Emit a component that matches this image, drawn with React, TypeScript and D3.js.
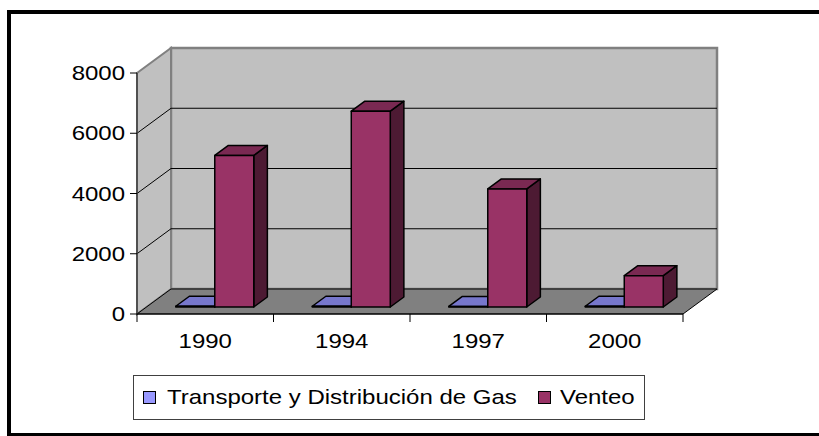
import React from 'react';
import * as d3 from 'd3';

// Emisiones: Transporte y Distribución de Gas vs Venteo, columnas 3D

const years = ['1990', '1994', '1997', '2000'];
const seriesNames = ['Transporte y Distribución de Gas', 'Venteo'];
const transporte = [25, 25, 20, 25];
const venteo = [5030, 6500, 3920, 1040];
const yTicks = [0, 2000, 4000, 6000, 8000];

const W = 819;
const H = 436;
const FONT = '"Liberation Sans", Arial, sans-serif';

// front plane of the plot box and depth vector of the 3D box
const left = 137;
const right = 683;
const bottom = 314;
const top = 73;
const depth = { x: 34, y: -25 };
const barFront = 0.28;
const barBack = 0.68;

const colors = [
  { front: '#9999FF', top: '#7777CC', side: '#5555AA' },
  { front: '#993366', top: '#7A2952', side: '#4D1A33' },
];

const StretchText = ({ x, y, anchor, children }: any) => (
  <text
    transform={`translate(${x},${y}) scale(1.2,1)`}
    textAnchor={anchor}
    fontFamily={FONT}
    fontSize={20}
    fill="#000"
  >
    {children}
  </text>
);

const App = () => {
  const x0 = d3.scaleBand().domain(years).range([left, right]).paddingInner(0);
  const x1 = d3
    .scaleBand()
    .domain(seriesNames)
    .range([0, x0.bandwidth()])
    .paddingInner(0)
    .paddingOuter(0.75);
  const y = d3.scaleLinear().domain([0, 8000]).range([bottom, top]);

  const pts = (arr: number[][]) => arr.map((p) => p.join(',')).join(' ');

  const bx = depth.x;
  const by = depth.y;

  // walls and floor
  const backWall = pts([
    [left + bx, top + by],
    [right + bx, top + by],
    [right + bx, bottom + by],
    [left + bx, bottom + by],
  ]);
  const sideWall = pts([
    [left, top],
    [left + bx, top + by],
    [left + bx, bottom + by],
    [left, bottom],
  ]);
  const floor = pts([
    [left, bottom],
    [left + bx, bottom + by],
    [right + bx, bottom + by],
    [right, bottom],
  ]);

  const bars: any[] = [];
  years.forEach((yr, i) => {
    [transporte, venteo].forEach((vals, s) => {
      const v = vals[i];
      const xa = (x0(yr) as number) + (x1(seriesNames[s]) as number) + barFront * bx;
      const w = x1.bandwidth();
      const yb = y(0) + barFront * by;
      const yt = y(v) + barFront * by;
      const dx = (barBack - barFront) * bx;
      const dy = (barBack - barFront) * by;
      const c = colors[s];
      bars.push(
        <g key={`${yr}-${s}`} stroke="#000" strokeWidth={1.5} strokeLinejoin="round">
          <polygon
            points={pts([
              [xa + w, yt],
              [xa + w + dx, yt + dy],
              [xa + w + dx, yb + dy],
              [xa + w, yb],
            ])}
            fill={c.side}
          />
          <polygon
            points={pts([
              [xa, yt],
              [xa + w, yt],
              [xa + w + dx, yt + dy],
              [xa + dx, yt + dy],
            ])}
            fill={c.top}
          />
          <rect x={xa} y={yt} width={w} height={Math.max(0, yb - yt)} fill={c.front} />
        </g>
      );
    });
  });

  return (
    <svg
      width={W}
      height={H}
      style={{ position: 'absolute', left: 0, top: 0, background: '#fff' }}
    >
      <rect x={9} y={12} width={W + 10} height={423} fill="#fff" stroke="#000" strokeWidth={4} />

      <polygon points={backWall} fill="#C0C0C0" stroke="#808080" strokeWidth={2.5} />
      <polygon points={sideWall} fill="#C0C0C0" stroke="#808080" strokeWidth={2} />
      <polygon points={floor} fill="#808080" stroke="#000" strokeWidth={1} />

      {/* gridlines */}
      {yTicks
        .filter((t) => t > 0 && t < 8000)
        .map((t) => (
          <g key={t} stroke="#000" strokeWidth={1}>
            <line x1={left} y1={y(t)} x2={left + bx} y2={y(t) + by} />
            <line x1={left + bx} y1={y(t) + by} x2={right + bx} y2={y(t) + by} />
          </g>
        ))}

      {bars}

      {/* y axis */}
      <line x1={left} y1={top} x2={left} y2={bottom} stroke="#404040" strokeWidth={1.5} />
      {yTicks.map((t) => (
        <g key={t}>
          <line x1={left - 7} y1={y(t)} x2={left} y2={y(t)} stroke="#000" strokeWidth={1} />
          <StretchText x={left - 12} y={y(t) + 7} anchor="end">
            {t}
          </StretchText>
        </g>
      ))}

      {/* x axis */}
      <line x1={left} y1={bottom} x2={right} y2={bottom} stroke="#000" strokeWidth={1} />
      {years.map((yr) => (
        <line
          key={yr}
          x1={x0(yr) as number}
          y1={bottom}
          x2={x0(yr) as number}
          y2={bottom + 8}
          stroke="#000"
          strokeWidth={1}
        />
      ))}
      <line x1={right} y1={bottom} x2={right} y2={bottom + 8} stroke="#000" strokeWidth={1} />
      {years.map((yr) => (
        <StretchText key={yr} x={(x0(yr) as number) + x0.bandwidth() / 2} y={348} anchor="middle">
          {yr}
        </StretchText>
      ))}

      {/* legend */}
      <rect x={133.5} y={375.5} width={511} height={44} fill="#fff" stroke="#404040" strokeWidth={1} />
      <rect x={143.5} y={391.5} width={12} height={12} fill={colors[0].front} stroke="#000" strokeWidth={1} />
      <StretchText x={167} y={404} anchor="start">
        {seriesNames[0]}
      </StretchText>
      <rect x={538.5} y={391.5} width={12} height={12} fill={colors[1].front} stroke="#000" strokeWidth={1} />
      <StretchText x={560} y={404} anchor="start">
        {seriesNames[1]}
      </StretchText>
    </svg>
  );
};

export default App;
